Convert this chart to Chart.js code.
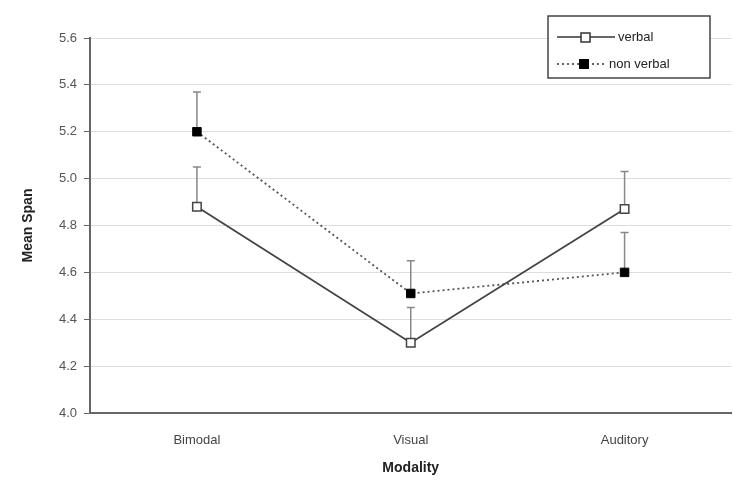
<!DOCTYPE html>
<html>
<head>
<meta charset="utf-8">
<script src="https://cdn.jsdelivr.net/npm/chart.js@4.4.1/dist/chart.umd.min.js"></script>
<style>
  html, body { margin: 0; padding: 0; background: #fff; overflow: hidden; }
  #wrap { width: 733px; height: 481px; position: relative; overflow: hidden; }
</style>
</head>
<body>
<div id="wrap"><canvas id="chartSpan"></canvas></div>
<script>
const categories = ["Bimodal", "Visual", "Auditory"];
const verbal = [4.88, 4.30, 4.87];
const verbalTop = [5.05, 4.45, 5.03];
const nonVerbal = [5.20, 4.51, 4.60];
const nonVerbalTop = [5.37, 4.65, 4.77];

const FONT = "'Liberation Sans', Arial, sans-serif";

// upward error bars, drawn under the markers
const errorBars = {
    id: "errorBars",
    beforeDatasetsDraw(chart) {
        const ctx = chart.ctx;
        const y = chart.scales.y;
        ctx.save();
        ctx.strokeStyle = "#888";
        ctx.lineWidth = 1.5;
        chart.data.datasets.forEach((ds, i) => {
            const meta = chart.getDatasetMeta(i);
            meta.data.forEach((pt, j) => {
                const top = y.getPixelForValue(ds.errTop[j]);
                ctx.beginPath();
                ctx.moveTo(pt.x, pt.y);
                ctx.lineTo(pt.x, top);
                ctx.moveTo(pt.x - 4, top);
                ctx.lineTo(pt.x + 4, top);
                ctx.stroke();
            });
        });
        ctx.restore();
    }
};

// boxed legend in the top right corner
const boxLegend = {
    id: "boxLegend",
    afterDraw(chart) {
        const ctx = chart.ctx;
        const x0 = 548, y0 = 16, w = 162, h = 62;
        ctx.save();
        ctx.fillStyle = "#fff";
        ctx.fillRect(x0, y0, w, h);
        ctx.strokeStyle = "#444";
        ctx.lineWidth = 1.5;
        ctx.strokeRect(x0, y0, w, h);
        ctx.font = "13px " + FONT;
        ctx.textBaseline = "middle";
        // verbal
        let ly = 37;
        ctx.strokeStyle = "#333";
        ctx.beginPath();
        ctx.moveTo(557, ly); ctx.lineTo(615, ly); ctx.stroke();
        ctx.fillStyle = "#fff";
        ctx.fillRect(581, ly - 4, 9, 9);
        ctx.strokeRect(581, ly - 4, 9, 9);
        ctx.fillStyle = "#222";
        ctx.fillText("verbal", 618, ly);
        // non verbal
        ly = 64;
        ctx.setLineDash([2, 3]);
        ctx.beginPath();
        ctx.moveTo(557, ly); ctx.lineTo(605, ly); ctx.stroke();
        ctx.setLineDash([]);
        ctx.fillStyle = "#000";
        ctx.fillRect(579, ly - 5, 10, 10);
        ctx.fillStyle = "#222";
        ctx.fillText("non verbal", 609, ly);
        ctx.restore();
    }
};

const dataSpan = {
    labels: categories,
    datasets: [{
        label: "verbal",
        data: verbal,
        errTop: verbalTop,
        borderColor: "#444",
        borderWidth: 1.8,
        pointStyle: "rect",
        pointRadius: 6,
        pointBackgroundColor: "#fff",
        pointBorderColor: "#444",
        pointBorderWidth: 1.5,
    }, {
        label: "non verbal",
        data: nonVerbal,
        errTop: nonVerbalTop,
        borderColor: "#555",
        borderWidth: 1.8,
        borderDash: [2, 3],
        pointStyle: "rect",
        pointRadius: 6,
        pointBackgroundColor: "#000",
        pointBorderColor: "#000",
        pointBorderWidth: 1,
    }],
};

const configSpan = {
    type: "line",
    data: dataSpan,
    plugins: [errorBars, boxLegend],
    options: {
        responsive: false,
        animation: false,
        layout: { padding: { top: 38, right: 1, left: 0, bottom: 0 } },
        plugins: {
            legend: { display: false },
            tooltip: { enabled: false },
        },
        scales: {
            x: {
                offset: true,
                grid: { display: false, drawTicks: false },
                border: { color: "#666", width: 2 },
                ticks: { color: "#444", font: { family: FONT, size: 13 }, padding: 20 },
                title: { display: true, text: "Modality", color: "#222", font: { family: FONT, size: 14, weight: "bold" }, padding: { top: 5 } },
                afterFit(scale) { scale.height = 68; },
            },
            y: {
                min: 4.0,
                max: 5.6,
                ticks: {
                    stepSize: 0.2,
                    color: "#555",
                    font: { family: FONT, size: 13 },
                    padding: 7,
                    callback: (v) => v.toFixed(1),
                },
                grid: { color: "#ddd", tickColor: "#666", tickLength: 6, lineWidth: 1 },
                border: { color: "#666", width: 2 },
                title: { display: true, text: "Mean Span", color: "#222", font: { family: FONT, size: 14, weight: "bold" }, padding: { top: 20, bottom: 0 } },
                afterFit(scale) { scale.width = 90; },
            },
        },
    },
};

// canvas a little wider than the window so the plot runs to the right edge
const c = document.getElementById("chartSpan");
c.width = 739;
c.height = 481;
var chartSpan = new Chart(c, configSpan);
</script>
</body>
</html>
